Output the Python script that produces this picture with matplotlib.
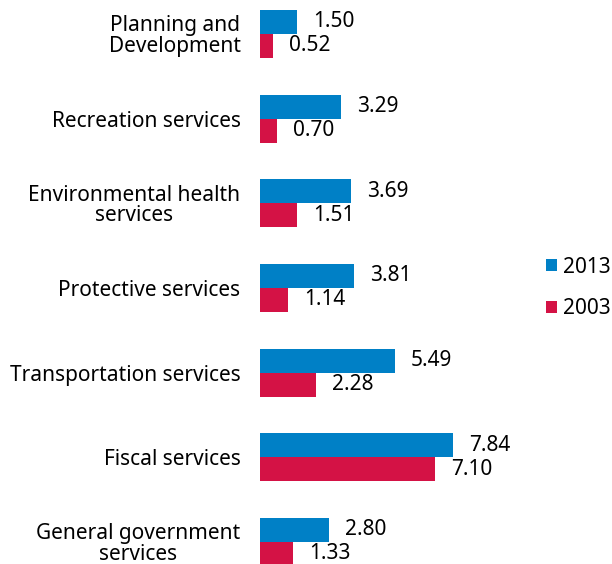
import matplotlib.pyplot as plt
import numpy as np

plt.rcParams['font.family'] = ['Noto Sans', 'DejaVu Sans']

# Data (top to bottom)
categories = ['Planning and\nDevelopment', 'Recreation services',
              'Environmental health\nservices', 'Protective services',
              'Transportation services', 'Fiscal services',
              'General government\nservices']
values_2013 = [1.50, 3.29, 3.69, 3.81, 5.49, 7.84, 2.80]
values_2003 = [0.52, 0.70, 1.51, 1.14, 2.28, 7.10, 1.33]

blue = '#0080C6'
red = '#D41245'

fig = plt.figure(figsize=(6.12, 5.64), dpi=100)
ax = fig.add_axes([260 / 612, 0, 246 / 612, 1])

y = np.arange(len(categories))
h = 0.283
b1 = ax.barh(y - h / 2, values_2013, height=h, color=blue, label='2013')
b2 = ax.barh(y + h / 2, values_2003, height=h, color=red, label='2003')

# Value labels next to bar ends
for bars, vals in [(b1, values_2013), (b2, values_2003)]:
    for bar, v in zip(bars, vals):
        ax.annotate(f'{v:.2f}', (bar.get_width(), bar.get_y() + bar.get_height() / 2),
                    xytext=(11.5, 0), textcoords='offset points',
                    ha='left', va='center', fontsize=15)

ax.set_xlim(0, 10)
ax.set_ylim(6.26, -0.40)
ax.set_yticks(y)
ax.set_yticklabels(categories, fontsize=15, multialignment='center', linespacing=0.98)
ax.tick_params(axis='y', length=0, pad=14)
ax.set_xticks([])
for s in ax.spines.values():
    s.set_visible(False)

fig.legend(handles=[b1, b2], loc='center left', bbox_to_anchor=(538 / 612, 1 - 288 / 564),
           frameon=False, fontsize=15, handlelength=0.5, handleheight=0.5,
           handletextpad=0.3, labelspacing=1.0, borderaxespad=0)

plt.savefig('out.png', dpi=100)
